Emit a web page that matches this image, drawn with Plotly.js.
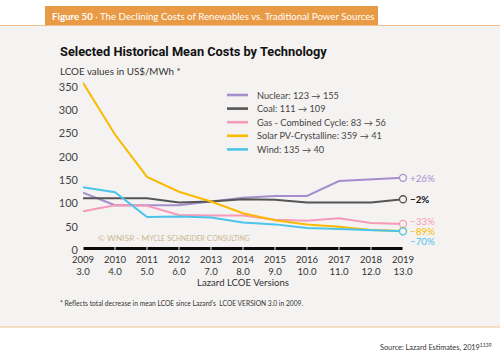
<!DOCTYPE html>
<html>
<head>
<meta charset="utf-8">
<script src="https://cdn.plot.ly/plotly-3.0.1.min.js"></script>
<style>html,body{margin:0;padding:0;background:#fff;}#chart{width:500px;height:359px;}</style>
</head>
<body>
<div id="chart"></div>
<script>
// ---- data ----
const years = [2009, 2010, 2011, 2012, 2013, 2014, 2015, 2016, 2017, 2018, 2019];
const versions = ["3.0", "4.0", "5.0", "6.0", "7.0", "8.0", "9.0", "10.0", "11.0", "12.0", "13.0"];
const seriesNames = ["Nuclear: 123 \u2192 155", "Coal: 111 \u2192 109", "Gas - Combined Cycle: 83 \u2192 56", "Solar PV-Crystalline: 359 \u2192 41", "Wind: 135 \u2192 40"];
const nuclear = [123, 96, 96, 96, 104, 112, 116, 116, 148, 151, 155];
const coal = [111, 111, 111, 102, 104, 109, 108, 102, 102, 102, 109];
const gas = [83, 96, 95, 75, 74, 74, 65, 63, 68, 58, 56];
const solar = [359, 248, 157, 125, 104, 79, 64, 55, 50, 43, 41];
const wind = [135, 124, 71, 72, 70, 59, 55, 47, 45, 42, 40];
const changeLabels = ["+26%", "\u22122%", "\u221233%", "\u221289%", "\u221270%"];
const yTicks = [0, 50, 100, 150, 200, 250, 300, 350];

// ---- style ----
const series = [nuclear, coal, gas, solar, wind];
const colors = ["#a58ecb", "#555555", "#f59ab8", "#fbb900", "#4cc4ea"];
const labelShift = [0, 0, 3, 0, -10];
const panel = "#f5f3f2";
const FONT = "Lato, 'Open Sans', sans-serif";

const traces = [];
series.forEach((s, i) => {
  traces.push({
    x: years, y: s, type: "scatter", mode: "lines",
    line: {color: colors[i], width: 2}, name: seriesNames[i],
    showlegend: false, hoverinfo: "skip", cliponaxis: false
  });
});
series.forEach((s, i) => {
  traces.push({
    x: [years[years.length - 1]], y: [s[s.length - 1]], type: "scatter", mode: "markers",
    marker: {size: 7, color: panel, line: {color: colors[i], width: 1.3}},
    showlegend: false, hoverinfo: "skip", cliponaxis: false
  });
});

const shapes = [
  {type: "rect", xref: "paper", yref: "paper", x0: -83/320, x1: 417/320, y0: (359-327-109)/170, y1: (359-25-109)/170,
   fillcolor: panel, line: {width: 0}, layer: "below"},
  {type: "line", xref: "paper", yref: "paper", x0: -83/320, x1: 417/320, y0: (359-25.5-109)/170, y1: (359-25.5-109)/170,
   line: {color: "#f2bf8f", width: 1.2}},
  {type: "line", xref: "paper", yref: "paper", x0: -83/320, x1: 417/320, y0: (359-327-109)/170, y1: (359-327-109)/170,
   line: {color: "#f2bf8f", width: 1.2}},
  {type: "rect", xref: "paper", yref: "paper", x0: (45-83)/320, x1: (378-83)/320, y0: (359-25-109)/170, y1: (359-6-109)/170,
   fillcolor: "#e99a45", line: {width: 0}},
  {type: "line", xref: "x", yref: "y", x0: years[0] - 0.03, x1: years[years.length-1] + 0.03, y0: 0, y1: 0,
   line: {color: "#0a0a0a", width: 6}}
];
years.forEach(yr => {
  shapes.push({type: "line", xref: "x", yref: "y", x0: yr, x1: yr, y0: -7, y1: 7,
    line: {color: panel, width: 1}, layer: "above"});
});
const legTop = 95, legStep = 13.6;
seriesNames.forEach((n, i) => {
  const py = (359 - (legTop + i * legStep) - 109) / 170;
  shapes.push({type: "line", xref: "paper", yref: "paper", x0: (227-83)/320, x1: (248-83)/320, y0: py, y1: py,
    line: {color: colors[i], width: 2.6}});
});

const annotations = [
  {xref: "paper", yref: "paper", x: (50-83)/320, y: (359-16-109)/170, xanchor: "left", yanchor: "middle", showarrow: false,
   text: "<b>Figure 50</b> \u00b7 The Declining Costs of Renewables vs. Traditional Power Sources",
   font: {family: FONT, size: 9.7, color: "#ffffff"}},
  {xref: "paper", yref: "paper", x: (58-83)/320, y: (359-52-109)/170, xanchor: "left", yanchor: "middle", showarrow: false,
   text: "<b>Selected Historical Mean Costs by Technology</b>",
   font: {family: "Roboto, sans-serif", size: 12.8, color: "#111111"}},
  {xref: "paper", yref: "paper", x: (58-83)/320, y: (359-71-109)/170, xanchor: "left", yanchor: "middle", showarrow: false,
   text: "LCOE values in US$/MWh *",
   font: {family: FONT, size: 9.8, color: "#333333"}},
  {xref: "paper", yref: "paper", x: (58-83)/320, y: (359-303-109)/170, xanchor: "left", yanchor: "middle", showarrow: false,
   text: "* Reflects total decrease in mean LCOE since Lazard\u2019s  LCOE VERSION 3.0 in 2009.",
   font: {family: FONT, size: 6.7, color: "#333333"}},
  {xref: "paper", yref: "paper", x: (494-83)/320, y: (359-347-109)/170, xanchor: "right", yanchor: "middle", showarrow: false,
   text: "Source: Lazard Estimates, 2019<sup>1139</sup>",
   font: {family: FONT, size: 7.3, color: "#333333"}},
  {xref: "paper", yref: "paper", x: (174-83)/320, y: (359-238-109)/170, xanchor: "center", yanchor: "middle", showarrow: false,
   text: "\u00a9 WNISR - M<span style='font-size:6.6px'>YCLE</span> S<span style='font-size:6.6px'>CHNEIDER</span> C<span style='font-size:6.6px'>ONSULTING</span>",
   font: {family: FONT, size: 8.4, color: "#c9b88f"}}
];
seriesNames.forEach((n, i) => {
  annotations.push({xref: "paper", yref: "paper", x: (255-83)/320, y: (359 - (legTop + i * legStep) - 109) / 170,
    xanchor: "left", yanchor: "middle", showarrow: false, text: n,
    font: {family: FONT, size: 9.2, color: "#444444"}});
});
series.forEach((s, i) => {
  annotations.push({xref: "x", yref: "y", x: years[years.length-1], y: s[s.length-1],
    xanchor: "left", yanchor: "middle", xshift: 6, yshift: labelShift[i], showarrow: false, borderpad: 0,
    text: i === 1 ? "<b>" + changeLabels[i] + "</b>" : changeLabels[i],
    font: {family: FONT, size: 9.8, color: i === 1 ? "#111111" : colors[i]}});
});

const layout = {
  width: 500, height: 359,
  margin: {l: 83, r: 97, t: 80, b: 109, pad: 0},
  paper_bgcolor: "#ffffff", plot_bgcolor: "rgba(0,0,0,0)",
  showlegend: false,
  xaxis: {
    range: [years[0], years[years.length-1]], showgrid: false, zeroline: false, showline: false,
    tickvals: years, ticktext: years.map((y, i) => y + "<br>" + versions[i]),
    ticks: "", ticklabelstandoff: 2,
    tickfont: {family: FONT, size: 9.6, color: "#333333"},
    title: {text: "Lazard LCOE Versions", font: {family: FONT, size: 9.6, color: "#333333"}, standoff: 0},
    fixedrange: true
  },
  yaxis: {
    range: [0, 365], showgrid: false, zeroline: false, showline: false,
    tickvals: yTicks, ticks: "", ticklabelstandoff: 4,
    tickfont: {family: FONT, size: 11, color: "#444444"},
    fixedrange: true
  },
  shapes: shapes,
  annotations: annotations,
  font: {family: FONT}
};

Plotly.newPlot("chart", traces, layout, {displayModeBar: false, staticPlot: true});
</script>
</body>
</html>
